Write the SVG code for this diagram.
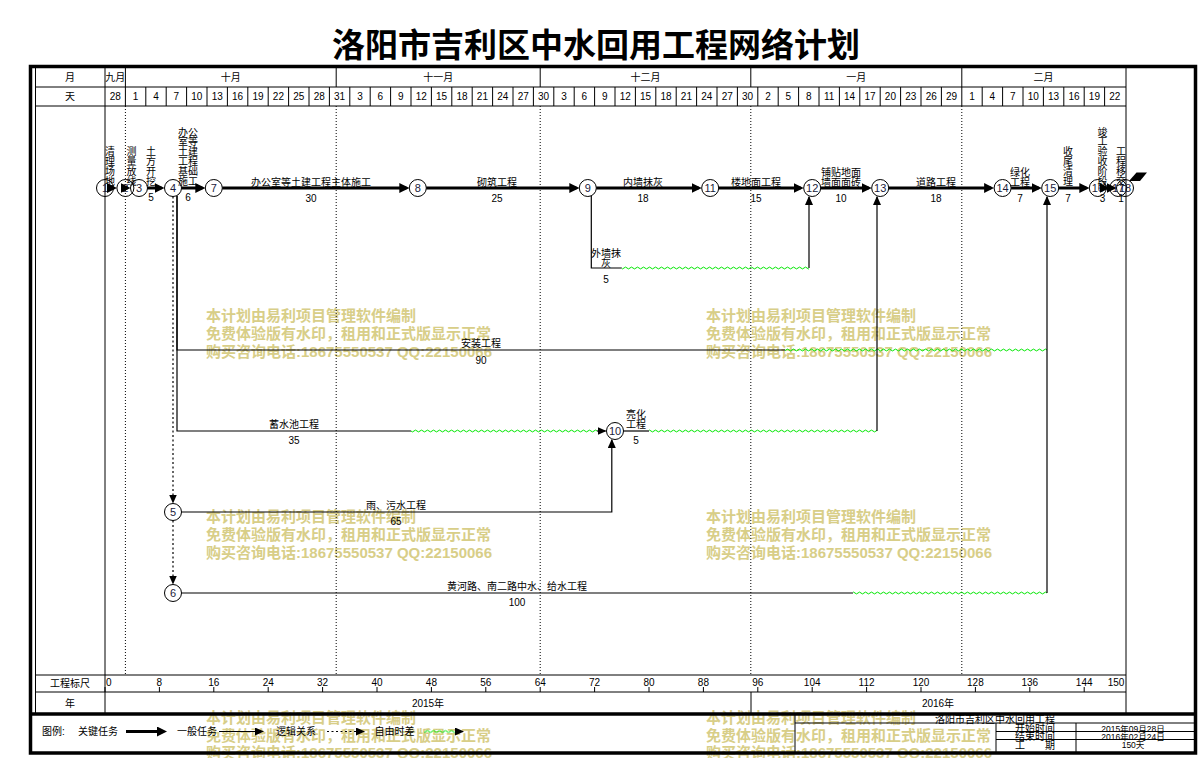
<svg xmlns="http://www.w3.org/2000/svg" width="1199" height="758" viewBox="0 0 1199 758">
<style>
text{font-family:"Liberation Sans","Noto Sans CJK SC",sans-serif;fill:#000;}
.t{font-size:10px;text-anchor:middle;dominant-baseline:central;}
.ts{font-size:10px;text-anchor:start;dominant-baseline:central;}
.tb{font-size:8.5px;text-anchor:middle;dominant-baseline:central;}
.title{font-size:33px;font-weight:bold;text-anchor:middle;dominant-baseline:central;}
.wm{font-size:15px;font-weight:bold;fill:#d8ce88;dominant-baseline:central;}
.frame{fill:none;stroke:#000;stroke-width:3.5;}
.g{fill:none;stroke:#000;stroke-width:1;}
.gd{fill:none;stroke:#000;stroke-width:1;stroke-dasharray:1,2;}
.crit{fill:none;stroke:#000;stroke-width:3;}
.thin{fill:none;stroke:#000;stroke-width:1.2;}
.logic{fill:none;stroke:#000;stroke-width:1.2;stroke-dasharray:2,2.5;}
.node circle{fill:none;stroke:#000;stroke-width:1;}
.node text{font-size:11px;text-anchor:middle;dominant-baseline:central;fill:#1c1c3c;}
.wv{fill:url(#wave);}
</style>
<defs>
<marker id="ahb" markerUnits="userSpaceOnUse" viewBox="0 0 10 10" markerWidth="10" markerHeight="10" refX="7" refY="5" orient="auto"><path d="M0,0 L10,5 L0,10 z" fill="#000"/></marker>
<marker id="ah" markerUnits="userSpaceOnUse" viewBox="0 0 9 8" markerWidth="9" markerHeight="8" refX="8" refY="4" orient="auto"><path d="M0,0 L9,4 L0,8 z" fill="#000"/></marker>
<pattern id="wave" patternUnits="userSpaceOnUse" x="0" y="-2" width="6" height="4"><path d="M0,2 Q1.5,0.2 3,2 Q4.5,3.8 6,2" fill="none" stroke="#00e600" stroke-width="1"/></pattern>
</defs>
<rect x="0" y="0" width="1199" height="758" fill="#fff"/>
<text class="title" x="596" y="45">洛阳市吉利区中水回用工程网络计划</text>

<g id="watermarks">
<text class="wm" x="206" y="315">本计划由易利项目管理软件编制</text>
<text class="wm" x="206" y="333">免费体验版有水印，租用和正式版显示正常</text>
<text class="wm" x="206" y="351">购买咨询电话:18675550537 QQ:22150066</text>
<text class="wm" x="706" y="315">本计划由易利项目管理软件编制</text>
<text class="wm" x="706" y="333">免费体验版有水印，租用和正式版显示正常</text>
<text class="wm" x="706" y="351">购买咨询电话:18675550537 QQ:22150066</text>
<text class="wm" x="206" y="516">本计划由易利项目管理软件编制</text>
<text class="wm" x="206" y="534">免费体验版有水印，租用和正式版显示正常</text>
<text class="wm" x="206" y="552">购买咨询电话:18675550537 QQ:22150066</text>
<text class="wm" x="706" y="516">本计划由易利项目管理软件编制</text>
<text class="wm" x="706" y="534">免费体验版有水印，租用和正式版显示正常</text>
<text class="wm" x="706" y="552">购买咨询电话:18675550537 QQ:22150066</text>
<text class="wm" x="206" y="717">本计划由易利项目管理软件编制</text>
<text class="wm" x="206" y="735">免费体验版有水印，租用和正式版显示正常</text>
<text class="wm" x="206" y="752">购买咨询电话:18675550537 QQ:22150066</text>
<text class="wm" x="706" y="717">本计划由易利项目管理软件编制</text>
<text class="wm" x="706" y="735">免费体验版有水印，租用和正式版显示正常</text>
<text class="wm" x="706" y="752">购买咨询电话:18675550537 QQ:22150066</text>
</g>

<g id="grid">
<rect class="frame" x="30.5" y="66.5" width="1165" height="686.5"/>
<line class="frame" x1="30.5" y1="714" x2="1195.5" y2="714" stroke-width="3"/>
<path class="g" d="M35.5,66.5V714 M105,66.5V714 M1126,66.5V714 M35.5,87H1126 M35.5,106H1126 M35.5,675H1126 M35.5,692H1126 M751,692V714"/>
<path class="g" d="M125.4,66.5V87 M336.2,66.5V87 M540.2,66.5V87 M750.8,66.5V87 M961.8,66.5V87"/>
<path class="gd" d="M125.4,106V675 M336.2,106V675 M540.2,106V675 M750.8,106V675 M961.8,106V675"/>
<path class="g" d="M125.4,87V106 M145.8,87V106 M166.2,87V106 M186.6,87V106 M207,87V106 M227.4,87V106 M247.8,87V106 M268.2,87V106 M288.6,87V106 M309,87V106 M329.4,87V106 M349.8,87V106 M370.2,87V106 M390.6,87V106 M411,87V106 M431.4,87V106 M451.8,87V106 M472.2,87V106 M492.6,87V106 M513,87V106 M533.4,87V106 M553.8,87V106 M574.2,87V106 M594.6,87V106 M615,87V106 M635.4,87V106 M655.8,87V106 M676.2,87V106 M696.6,87V106 M717,87V106 M737.4,87V106 M757.8,87V106 M778.2,87V106 M798.6,87V106 M819,87V106 M839.4,87V106 M859.8,87V106 M880.2,87V106 M900.6,87V106 M921,87V106 M941.4,87V106 M961.8,87V106 M982.2,87V106 M1002.6,87V106 M1023,87V106 M1043.4,87V106 M1063.8,87V106 M1084.2,87V106 M1104.6,87V106"/>
<path class="g" d="M105,687V692 M159.4,687V692 M213.8,687V692 M268.2,687V692 M322.6,687V692 M377,687V692 M431.4,687V692 M485.8,687V692 M540.2,687V692 M594.6,687V692 M649,687V692 M703.4,687V692 M757.8,687V692 M812.2,687V692 M866.6,687V692 M921,687V692 M975.4,687V692 M1029.8,687V692 M1084.2,687V692"/>
<path class="g" d="M795,714V753 M795,723H1195 M996,723V753 M1076,723V753 M996,731.5H1195 M996,739.5H1195"/>
</g>

<g id="header-text">
<text class="t" x="70" y="77">月</text>
<text class="t" x="70" y="96.5">天</text>
<text class="t" x="115.2" y="77">九月</text>
<text class="t" x="230.8" y="77">十月</text>
<text class="t" x="438.2" y="77">十一月</text>
<text class="t" x="645.5" y="77">十二月</text>
<text class="t" x="856.3" y="77">一月</text>
<text class="t" x="1043.5" y="77">二月</text>
<text class="t" x="115.2" y="96.5">28</text><text class="t" x="135.6" y="96.5">1</text><text class="t" x="156" y="96.5">4</text><text class="t" x="176.4" y="96.5">7</text><text class="t" x="196.8" y="96.5">10</text><text class="t" x="217.2" y="96.5">13</text><text class="t" x="237.6" y="96.5">16</text><text class="t" x="258" y="96.5">19</text><text class="t" x="278.4" y="96.5">22</text><text class="t" x="298.8" y="96.5">25</text><text class="t" x="319.2" y="96.5">28</text><text class="t" x="339.6" y="96.5">31</text>
<text class="t" x="360" y="96.5">3</text><text class="t" x="380.4" y="96.5">6</text><text class="t" x="400.8" y="96.5">9</text><text class="t" x="421.2" y="96.5">12</text><text class="t" x="441.6" y="96.5">15</text><text class="t" x="462" y="96.5">18</text><text class="t" x="482.4" y="96.5">21</text><text class="t" x="502.8" y="96.5">24</text><text class="t" x="523.2" y="96.5">27</text><text class="t" x="543.6" y="96.5">30</text>
<text class="t" x="564" y="96.5">3</text><text class="t" x="584.4" y="96.5">6</text><text class="t" x="604.8" y="96.5">9</text><text class="t" x="625.2" y="96.5">12</text><text class="t" x="645.6" y="96.5">15</text><text class="t" x="666" y="96.5">18</text><text class="t" x="686.4" y="96.5">21</text><text class="t" x="706.8" y="96.5">24</text><text class="t" x="727.2" y="96.5">27</text><text class="t" x="747.6" y="96.5">30</text>
<text class="t" x="768" y="96.5">2</text><text class="t" x="788.4" y="96.5">5</text><text class="t" x="808.8" y="96.5">8</text><text class="t" x="829.2" y="96.5">11</text><text class="t" x="849.6" y="96.5">14</text><text class="t" x="870" y="96.5">17</text><text class="t" x="890.4" y="96.5">20</text><text class="t" x="910.8" y="96.5">23</text><text class="t" x="931.2" y="96.5">26</text><text class="t" x="951.6" y="96.5">29</text>
<text class="t" x="972" y="96.5">1</text><text class="t" x="992.4" y="96.5">4</text><text class="t" x="1012.8" y="96.5">7</text><text class="t" x="1033.2" y="96.5">10</text><text class="t" x="1053.6" y="96.5">13</text><text class="t" x="1074" y="96.5">16</text><text class="t" x="1094.4" y="96.5">19</text><text class="t" x="1114.8" y="96.5">22</text>
</g>

<g id="scale-text">
<text class="t" x="70" y="683.5">工程标尺</text>
<text class="t" x="70" y="703">年</text>
<text class="ts" x="106" y="682.5">0</text>
<text class="t" x="159.4" y="682.5">8</text><text class="t" x="213.8" y="682.5">16</text><text class="t" x="268.2" y="682.5">24</text><text class="t" x="322.6" y="682.5">32</text><text class="t" x="377" y="682.5">40</text><text class="t" x="431.4" y="682.5">48</text><text class="t" x="485.8" y="682.5">56</text><text class="t" x="540.2" y="682.5">64</text><text class="t" x="594.6" y="682.5">72</text><text class="t" x="649" y="682.5">80</text><text class="t" x="703.4" y="682.5">88</text><text class="t" x="757.8" y="682.5">96</text><text class="t" x="812.2" y="682.5">104</text><text class="t" x="866.6" y="682.5">112</text><text class="t" x="921" y="682.5">120</text><text class="t" x="975.4" y="682.5">128</text><text class="t" x="1029.8" y="682.5">136</text><text class="t" x="1084.2" y="682.5">144</text>
<text class="t" x="1116" y="682.5">150</text>
<text class="t" x="428" y="703">2015年</text>
<text class="t" x="938" y="703">2016年</text>
</g>

<g id="nodes">
<g id="node-1" class="node"><circle cx="105" cy="188" r="8.5"/><text x="105" y="188">1</text></g>
<g id="node-2" class="node"><circle cx="125.4" cy="188" r="8.5"/><text x="125.4" y="188">2</text></g>
<g id="node-3" class="node"><circle cx="139" cy="188" r="8.5"/><text x="139" y="188">3</text></g>
<g id="node-4" class="node"><circle cx="173" cy="188" r="8.5"/><text x="173" y="188">4</text></g>
<g id="node-5" class="node"><circle cx="173" cy="512" r="8.5"/><text x="173" y="512">5</text></g>
<g id="node-6" class="node"><circle cx="173" cy="593" r="8.5"/><text x="173" y="593">6</text></g>
<g id="node-7" class="node"><circle cx="213.8" cy="188" r="8.5"/><text x="213.8" y="188">7</text></g>
<g id="node-8" class="node"><circle cx="417.8" cy="188" r="8.5"/><text x="417.8" y="188">8</text></g>
<g id="node-9" class="node"><circle cx="587.8" cy="188" r="8.5"/><text x="587.8" y="188">9</text></g>
<g id="node-10" class="node"><circle cx="615" cy="431" r="8.5"/><text x="615" y="431">10</text></g>
<g id="node-11" class="node"><circle cx="710.2" cy="188" r="8.5"/><text x="710.2" y="188">11</text></g>
<g id="node-12" class="node"><circle cx="812.2" cy="188" r="8.5"/><text x="812.2" y="188">12</text></g>
<g id="node-13" class="node"><circle cx="880.2" cy="188" r="8.5"/><text x="880.2" y="188">13</text></g>
<g id="node-14" class="node"><circle cx="1002.6" cy="188" r="8.5"/><text x="1002.6" y="188">14</text></g>
<g id="node-15" class="node"><circle cx="1050.2" cy="188" r="8.5"/><text x="1050.2" y="188">15</text></g>
<g id="node-16" class="node"><circle cx="1097.8" cy="188" r="8.5"/><text x="1097.8" y="188">16</text></g>
<g id="node-17" class="node"><circle cx="1118.2" cy="188" r="8.5"/><text x="1118.2" y="188">17</text></g>
<g id="node-18" class="node"><circle cx="1125" cy="188" r="8.5"/><text x="1125" y="188">18</text></g>
<polygon id="end-flag" points="1129,181 1136.5,172.5 1147,172.5 1140,181" fill="#000"/>
</g>

<g id="connectors">
<g id="c1-2"><path class="crit" d="M113.5,188H113.9" marker-end="url(#ahb)"/>
<text class="t" x="110" y="151.6">清</text><text class="t" x="110" y="161.4">理</text><text class="t" x="110" y="171.2">场</text><text class="t" x="110" y="181">地</text></g>
<g id="c2-3"><path class="crit" d="M126,188H127.5" marker-end="url(#ahb)"/>
<text class="t" x="131.5" y="151.6">测</text><text class="t" x="131.5" y="161.4">量</text><text class="t" x="131.5" y="171.2">放</text><text class="t" x="131.5" y="181">线</text></g>
<g id="c3-4"><path class="crit" d="M147.5,188H161.5" marker-end="url(#ahb)"/>
<text class="t" x="151" y="151.6">土</text><text class="t" x="151" y="161.4">方</text><text class="t" x="151" y="171.2">开</text><text class="t" x="151" y="181">挖</text><text class="t" x="151" y="197.5">5</text></g>
<g id="c4-7"><path class="crit" d="M181.5,188H202.3" marker-end="url(#ahb)"/>
<text class="t" x="188" y="132">办公</text><text class="t" x="188" y="141.8">室等</text><text class="t" x="188" y="151.6">土建</text><text class="t" x="188" y="161.4">工程</text><text class="t" x="188" y="171.2">基础</text><text class="t" x="188" y="181">施工</text><text class="t" x="188" y="197.5">6</text></g>
<g id="c7-8"><path class="crit" d="M222.3,188H406.3" marker-end="url(#ahb)"/>
<text class="t" x="311" y="182">办公室等土建工程主体施工</text><text class="t" x="311" y="198">30</text></g>
<g id="c8-9"><path class="crit" d="M426.3,188H576.3" marker-end="url(#ahb)"/>
<text class="t" x="497" y="182">砌筑工程</text><text class="t" x="497" y="198">25</text></g>
<g id="c9-11"><path class="crit" d="M596.3,188H698.7" marker-end="url(#ahb)"/>
<text class="t" x="643" y="182">内墙抹灰</text><text class="t" x="643" y="198">18</text></g>
<g id="c11-12"><path class="crit" d="M718.7,188H800.7" marker-end="url(#ahb)"/>
<text class="t" x="756" y="182">楼地面工程</text><text class="t" x="756" y="198">15</text></g>
<g id="c12-13"><path class="crit" d="M820.7,188H868.7" marker-end="url(#ahb)"/>
<text class="t" x="841" y="172">铺贴地面</text><text class="t" x="841" y="182">墙面面砖</text><text class="t" x="841" y="198">10</text></g>
<g id="c13-14"><path class="crit" d="M888.7,188H991.1" marker-end="url(#ahb)"/>
<text class="t" x="936" y="182">道路工程</text><text class="t" x="936" y="198">18</text></g>
<g id="c14-15"><path class="crit" d="M1011.1,188H1038.7" marker-end="url(#ahb)"/>
<text class="t" x="1020" y="172">绿化</text><text class="t" x="1020" y="182">工程</text><text class="t" x="1020" y="198">7</text></g>
<g id="c15-16"><path class="crit" d="M1058.7,188H1086.3" marker-end="url(#ahb)"/>
<text class="t" x="1068" y="151.6">收</text><text class="t" x="1068" y="161.4">尾</text><text class="t" x="1068" y="171.2">清</text><text class="t" x="1068" y="181">理</text><text class="t" x="1068" y="198">7</text></g>
<g id="c16-17"><path class="crit" d="M1106,188H1106.7" marker-end="url(#ahb)"/>
<text class="t" x="1102.5" y="132">竣</text><text class="t" x="1102.5" y="141.8">工</text><text class="t" x="1102.5" y="151.6">验</text><text class="t" x="1102.5" y="161.4">收</text><text class="t" x="1102.5" y="171.2">阶</text><text class="t" x="1102.5" y="181">段</text><text class="t" x="1102.5" y="198">3</text></g>
<g id="c17-18"><path class="crit" d="M1112,188H1113.5" marker-end="url(#ahb)"/>
<text class="t" x="1121" y="151.6">工</text><text class="t" x="1121" y="161.4">程</text><text class="t" x="1121" y="171.2">移</text><text class="t" x="1121" y="181">交</text><text class="t" x="1121" y="198">1</text></g>

<g id="c9-12"><path class="thin" d="M591.3,195.7V268H621.8"/>
<g transform="translate(0,268)"><rect class="wv" x="621.8" y="-2" width="187.2" height="4"/></g>
<path class="thin" d="M809,268V196.9" marker-end="url(#ah)"/>
<text class="t" x="606" y="253">外墙抹</text><text class="t" x="606" y="263">灰</text><text class="t" x="606" y="279">5</text></g>

<g id="c4-15"><path class="thin" d="M177,195.7V350H785"/>
<g transform="translate(0,350)"><rect class="wv" x="785" y="-2" width="262" height="4"/></g>
<path class="thin" d="M1047,350V196.9" marker-end="url(#ah)"/>
<text class="t" x="481" y="343">安装工程</text><text class="t" x="481" y="360">90</text></g>

<g id="c4-10"><path class="thin" d="M177,195.7V431H411"/>
<g transform="translate(0,431)"><rect class="wv" x="411" y="-2" width="186" height="4"/></g>
<path class="thin" d="M597,431H605.5" marker-end="url(#ah)"/>
<text class="t" x="294" y="424.5">蓄水池工程</text><text class="t" x="294" y="440.5">35</text></g>

<g id="c10-13"><path class="thin" d="M623.5,431H649"/>
<g transform="translate(0,431)"><rect class="wv" x="649" y="-2" width="228" height="4"/></g>
<path class="thin" d="M877,431V196.9" marker-end="url(#ah)"/>
<text class="t" x="636" y="414.5">亮化</text><text class="t" x="636" y="424.5">工程</text><text class="t" x="636" y="440.5">5</text></g>

<g id="c5-10"><path class="thin" d="M181.5,512H611.8V439.9" marker-end="url(#ah)"/>
<text class="t" x="396" y="505">雨、污水工程</text><text class="t" x="396" y="521.5">65</text></g>

<g id="c6-15"><path class="thin" d="M181.5,593H853"/>
<g transform="translate(0,593)"><rect class="wv" x="853" y="-2" width="194" height="4"/></g>
<path class="thin" d="M1047,593V350" />
<text class="t" x="517" y="586">黄河路、南二路中水、给水工程</text><text class="t" x="517" y="602.5">100</text></g>

<g id="c4-5"><path class="logic" d="M173,196.5V502.5" marker-end="url(#ah)"/></g>
<g id="c5-6"><path class="logic" d="M173,520.5V583.5" marker-end="url(#ah)"/></g>
</g>

<g id="legend">
<text class="ts" x="42" y="731.5">图例:</text>
<text class="ts" x="78" y="731.5">关键任务</text>
<path class="crit" d="M126,731.5H164" marker-end="url(#ahb)"/>
<text class="ts" x="177" y="731.5">一般任务</text>
<path class="thin" d="M219,731.5H263" marker-end="url(#ah)"/>
<text class="ts" x="276" y="731.5">逻辑关系</text>
<path class="logic" d="M327,731.5H364" marker-end="url(#ah)"/>
<text class="ts" x="374.5" y="731.5">自由时差</text>
<g transform="translate(0,731.5)"><rect class="wv" x="424" y="-2" width="34" height="4"/></g>
<path class="thin" d="M458,731.5H463" marker-end="url(#ah)"/>
</g>

<g id="info-table">
<text class="t" x="995" y="719.5">洛阳市吉利区中水回用工程</text>
<text class="t" x="1035" y="728.5">开始时间</text>
<text class="tb" x="1133" y="728.5">2015年09月28日</text>
<text class="t" x="1035" y="736.5">结束时间</text>
<text class="tb" x="1133" y="736.5">2016年02月24日</text>
<text class="t" x="1035" y="745">工　　期</text>
<text class="tb" x="1133" y="745">150天</text>
</g>
</svg>
